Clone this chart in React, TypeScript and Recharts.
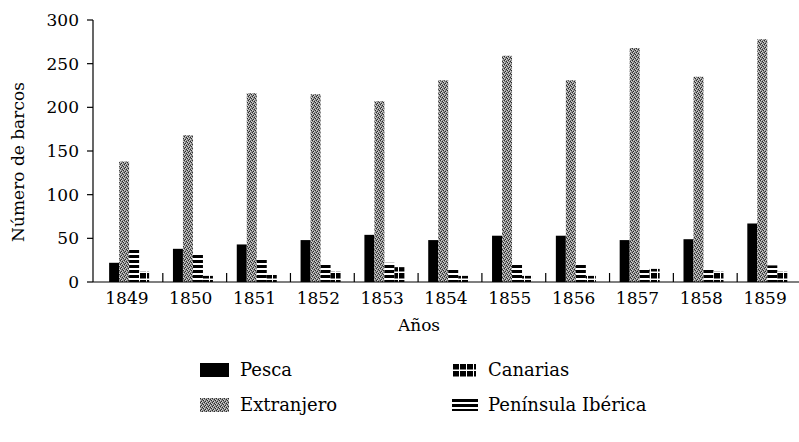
import { BarChart, Bar, XAxis, YAxis, Legend, Label } from 'recharts'

const years = ['1849', '1850', '1851', '1852', '1853', '1854', '1855', '1856', '1857', '1858', '1859']
const pesca = [22, 38, 43, 48, 54, 48, 53, 53, 48, 49, 67]
const extranjero = [138, 168, 216, 215, 207, 231, 259, 231, 268, 235, 278]
const peninsula = [38, 32, 27, 21, 22, 16, 21, 21, 16, 16, 19]
const canarias = [12, 7, 8, 12, 17, 7, 7, 7, 15, 12, 12]
const yTicks = [0, 50, 100, 150, 200, 250, 300]

const data = years.map((year, i) => ({
  year,
  pesca: pesca[i],
  extranjero: extranjero[i],
  peninsula: peninsula[i],
  canarias: canarias[i],
}))

const W = 799
const H = 442
const PLOT_LEFT = 93
const PAD_LEFT = 4
const PLOT_TOP = 20
const AXIS_Y = 282
const LEGEND_H = 97
const CAT_W = (W - PLOT_LEFT - PAD_LEFT) / years.length
const FONT = '"DejaVu Serif", serif'

// grey halftone cells for "Extranjero"
const halftoneDark = [[0, 0], [2, 1], [1, 3], [3, 2]]
const halftoneLight = [[1, 0], [3, 1], [0, 2], [2, 3]]

function Patterns() {
  return (
    <defs>
      <pattern id="pat-ext" patternUnits="userSpaceOnUse" width={4} height={4}>
        <rect width={4} height={4} fill="#8a8a8a" />
        {halftoneDark.map(([x, y]) => (
          <rect key={`d${x}${y}`} x={x} y={y} width={1} height={1} fill="#2a2a2a" />
        ))}
        {halftoneLight.map(([x, y]) => (
          <rect key={`l${x}${y}`} x={x} y={y} width={1} height={1} fill="#d4d4d4" />
        ))}
      </pattern>
      <pattern id="pat-pen" patternUnits="userSpaceOnUse" width={6} height={5}>
        <rect width={6} height={5} fill="#fff" />
        <rect width={6} height={3} fill="#000" />
      </pattern>
      <pattern id="pat-can" patternUnits="userSpaceOnUse" width={7} height={7}>
        <rect width={7} height={7} fill="#fff" />
        <rect width={6} height={5.5} fill="#000" />
      </pattern>
    </defs>
  )
}

function YearTick({ x, payload }: any) {
  const bx = x + CAT_W / 2 + 2
  return (
    <g>
      <line x1={bx} x2={bx} y1={AXIS_Y} y2={AXIS_Y - 9} stroke="#000" strokeWidth={1.2} />
      <text x={x - 2} y={AXIS_Y + 22} textAnchor="middle" fontFamily={FONT} fontSize={17} fill="#000">
        {payload.value}
      </text>
    </g>
  )
}

function Swatch({ fill, w, h }: { fill: string; w: number; h: number }) {
  return (
    <svg width={w} height={h} style={{ display: 'block' }}>
      <rect width={w} height={h} fill={fill} />
    </svg>
  )
}

function ChartLegend() {
  const item = (left: number, top: number, sw: number, sh: number, textLeft: number, fill: string, label: string) => (
    <div key={label} style={{ position: 'absolute', left: 0, top, height: 22, width: W }}>
      <div style={{ position: 'absolute', left, top: (22 - sh) / 2 }}>
        <Swatch fill={fill} w={sw} h={sh} />
      </div>
      <span
        style={{
          position: 'absolute',
          left: textLeft,
          top: 0,
          lineHeight: '22px',
          fontFamily: FONT,
          fontSize: 18,
          color: '#000',
          whiteSpace: 'nowrap',
        }}
      >
        {label}
      </span>
    </div>
  )
  return (
    <div style={{ position: 'relative', width: W, height: LEGEND_H }}>
      {item(200, 14, 29, 14, 240, '#000', 'Pesca')}
      {item(200, 49, 29, 14, 240, 'url(#pat-ext)', 'Extranjero')}
      {item(453, 14, 23, 13, 488, 'url(#pat-can)', 'Canarias')}
      {item(452, 49, 26, 12, 488, 'url(#pat-pen)', 'Península Ibérica')}
    </div>
  )
}

export default function App() {
  return (
    <div style={{ position: 'absolute', left: 0, top: 0, width: W, height: H, background: '#fff' }}>
      <BarChart
        width={W}
        height={H}
        data={data}
        margin={{ top: PLOT_TOP, right: 0, bottom: 0, left: 0 }}
        barCategoryGap="19%"
        barGap={0}
      >
        <Patterns />
        <XAxis
          dataKey="year"
          interval={0}
          padding={{ left: PAD_LEFT, right: 0 }}
          height={H - AXIS_Y - LEGEND_H}
          tickLine={false}
          tick={YearTick}
          axisLine={{ stroke: '#000', strokeWidth: 1.2 }}
        >
          <Label
            value="Años"
            position="insideBottom"
            offset={14}
            dx={-27}
            style={{ fontFamily: FONT, fontSize: 17, fill: '#000' }}
          />
        </XAxis>
        <YAxis
          width={PLOT_LEFT}
          domain={[0, 300]}
          ticks={yTicks}
          interval={0}
          tickSize={6}
          tickMargin={8}
          tick={{ fontFamily: FONT, fontSize: 17, fill: '#000' }}
          tickLine={{ stroke: '#000', strokeWidth: 1.2 }}
          axisLine={{ stroke: '#000', strokeWidth: 1.2 }}
        >
          <Label
            value="Número de barcos"
            angle={-90}
            position="insideLeft"
            offset={18}
            dy={11}
            style={{ textAnchor: 'middle', fontFamily: FONT, fontSize: 17, fill: '#000' }}
          />
        </YAxis>
        <Legend
          verticalAlign="bottom"
          height={LEGEND_H}
          content={() => <ChartLegend />}
          wrapperStyle={{ left: 0, bottom: 0, width: W, height: LEGEND_H }}
        />
        <Bar dataKey="pesca" name="Pesca" fill="#000" isAnimationActive={false} />
        <Bar dataKey="extranjero" name="Extranjero" fill="url(#pat-ext)" isAnimationActive={false} />
        <Bar dataKey="peninsula" name="Península Ibérica" fill="url(#pat-pen)" isAnimationActive={false} />
        <Bar dataKey="canarias" name="Canarias" fill="url(#pat-can)" isAnimationActive={false} />
      </BarChart>
    </div>
  )
}
